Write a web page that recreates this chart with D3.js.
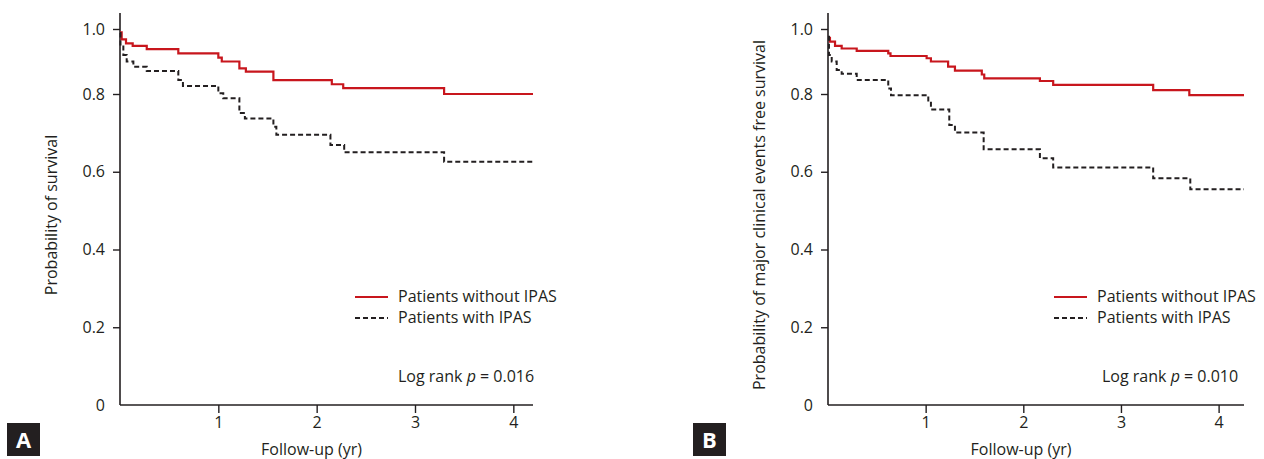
<!DOCTYPE html>
<meta charset="utf-8">
<style>
body { margin: 0; background: #fff; }
svg text { font-family: "Open Sans", sans-serif; fill: #231f20; }
.axis path, .axis line { stroke: #231f20; }
</style>
<body>
<svg id="chart" width="1264" height="459"></svg>
<script src="https://cdn.jsdelivr.net/npm/d3@7"></script>
<script>
// step data: event times (yr) and survival after each step
var timesA_without = [0, 0.017, 0.061, 0.129, 0.272, 0.593, 1.0, 1.035, 1.214, 1.28, 1.56, 2.154, 2.27, 3.296, 4.2];
var survA_without  = [0.99, 0.968, 0.956, 0.948, 0.938, 0.925, 0.912, 0.90, 0.879, 0.869, 0.843, 0.83, 0.818, 0.80, 0.80];
var timesA_with = [0, 0.005, 0.034, 0.068, 0.136, 0.272, 0.593, 0.64, 1.0, 1.05, 1.214, 1.27, 1.56, 1.59, 2.14, 2.28, 3.296, 4.2];
var survA_with  = [0.988, 0.946, 0.92, 0.90, 0.884, 0.871, 0.843, 0.825, 0.802, 0.789, 0.751, 0.737, 0.716, 0.695, 0.669, 0.65, 0.626, 0.626];

var timesB_without = [0, 0.02, 0.072, 0.14, 0.294, 0.617, 0.64, 1.01, 1.054, 1.23, 1.3, 1.575, 1.6, 2.17, 2.306, 3.33, 3.7, 4.26];
var survB_without  = [0.973, 0.961, 0.948, 0.94, 0.933, 0.925, 0.917, 0.91, 0.90, 0.884, 0.872, 0.86, 0.848, 0.84, 0.828, 0.812, 0.797, 0.797];
var timesB_with = [0, 0.01, 0.038, 0.089, 0.14, 0.294, 0.617, 0.645, 1.027, 1.054, 1.242, 1.3, 1.594, 2.17, 2.306, 3.33, 3.71, 4.26];
var survB_with  = [0.976, 0.92, 0.90, 0.874, 0.862, 0.843, 0.817, 0.797, 0.78, 0.76, 0.72, 0.701, 0.658, 0.635, 0.611, 0.583, 0.555, 0.555];

var yTicks = [0, 0.2, 0.4, 0.6, 0.8, 1.0];
var xTicks = [1, 2, 3, 4];
var legendLabels = ["Patients without IPAS", "Patients with IPAS"];

var panels = [
  { letter: "A", boxX: 7, left: 120, xEnd: 4.2, right: 533, ylabel: "Probability of survival", p: "0.016",
    series: [[timesA_without, survA_without], [timesA_with, survA_with]], legX: 355, pX: 398 },
  { letter: "B", boxX: 693, left: 828, xEnd: 4.26, right: 1244, ylabel: "Probability of major clinical events free survival", p: "0.010",
    series: [[timesB_without, survB_without], [timesB_with, survB_with]], legX: 1054, pX: 1102 }
];

var svg = d3.select("#chart");
var red = "#c8161d", ink = "#231f20";

// y axis is stretched below 0.8 in the original, so use a piecewise scale
var y = d3.scaleLinear().domain([0, 0.8, 1.0]).range([405, 94, 29]);

panels.forEach(function(p) {
  var x = d3.scaleLinear().domain([0, p.xEnd]).range([p.left, p.right]);
  var g = svg.append("g");

  // axes
  var yAxis = g.append("g").attr("class", "axis").attr("transform", "translate(" + p.left + ",0)")
    .call(d3.axisLeft(y).tickValues(yTicks).tickSize(7).tickPadding(8)
      .tickFormat(function(d) { return d === 0 ? "0" : d.toFixed(1); }));
  yAxis.select(".domain").remove();
  yAxis.selectAll(".tick line").filter(function(d) { return d === 0; }).remove();
  yAxis.selectAll("text").style("font-size", "16px").attr("fill", ink);
  g.append("line").attr("x1", p.left).attr("x2", p.left).attr("y1", 13).attr("y2", 405)
    .attr("stroke", ink).attr("stroke-width", 1.6);

  var xAxis = g.append("g").attr("class", "axis").attr("transform", "translate(0,405)")
    .call(d3.axisBottom(x).tickValues(xTicks).tickSize(8).tickPadding(4).tickFormat(d3.format("d")));
  xAxis.select(".domain").remove();
  xAxis.selectAll("text").style("font-size", "16px").attr("fill", ink);
  xAxis.selectAll("line").attr("stroke-width", 1.4);
  yAxis.selectAll("line").attr("stroke-width", 1.4);
  g.append("line").attr("x1", p.left).attr("x2", p.right).attr("y1", 405).attr("y2", 405)
    .attr("stroke", ink).attr("stroke-width", 1.6);

  // axis titles
  g.append("text").attr("x", (p.left + p.right) / 2 - 15).attr("y", 455).attr("text-anchor", "middle")
    .style("font-size", "16px").text("Follow-up (yr)");
  g.append("text").attr("transform", "translate(" + (p.left - 63) + ",215) rotate(-90)")
    .attr("text-anchor", "middle").style("font-size", "16px").text(p.ylabel);

  // curves
  var line = d3.line().curve(d3.curveStepAfter)
    .x(function(d) { return x(d[0]); }).y(function(d) { return y(d[1]); });
  p.series.forEach(function(s, i) {
    var pts = s[0].map(function(t, k) { return [t, s[1][k]]; });
    g.append("path").datum(pts).attr("d", line).attr("fill", "none")
      .attr("stroke", i === 0 ? red : ink).attr("stroke-width", i === 0 ? 2.2 : 2)
      .attr("stroke-dasharray", i === 0 ? null : "5,3");
  });

  // legend
  legendLabels.forEach(function(lab, i) {
    var ly = 297 + i * 21;
    g.append("line").attr("x1", p.legX).attr("x2", p.legX + 33).attr("y1", ly).attr("y2", ly)
      .attr("stroke", i === 0 ? red : ink).attr("stroke-width", i === 0 ? 2.2 : 2)
      .attr("stroke-dasharray", i === 0 ? null : "5,3");
    g.append("text").attr("x", p.legX + 43).attr("y", ly + 5).style("font-size", "16px").text(lab);
  });
  var lt = g.append("text").attr("x", p.pX).attr("y", 382).style("font-size", "16px");
  lt.append("tspan").text("Log rank ");
  lt.append("tspan").style("font-style", "italic").text("p");
  lt.append("tspan").text(" = " + p.p);

  // panel letter
  g.append("rect").attr("x", p.boxX).attr("y", 423).attr("width", 33).attr("height", 33).attr("fill", "#231f20");
  g.append("text").attr("x", p.boxX + 16.5).attr("y", 448).attr("text-anchor", "middle")
    .style("font-size", "22px").style("font-weight", "bold").style("fill", "#fff").text(p.letter);
});
</script>
</body>
